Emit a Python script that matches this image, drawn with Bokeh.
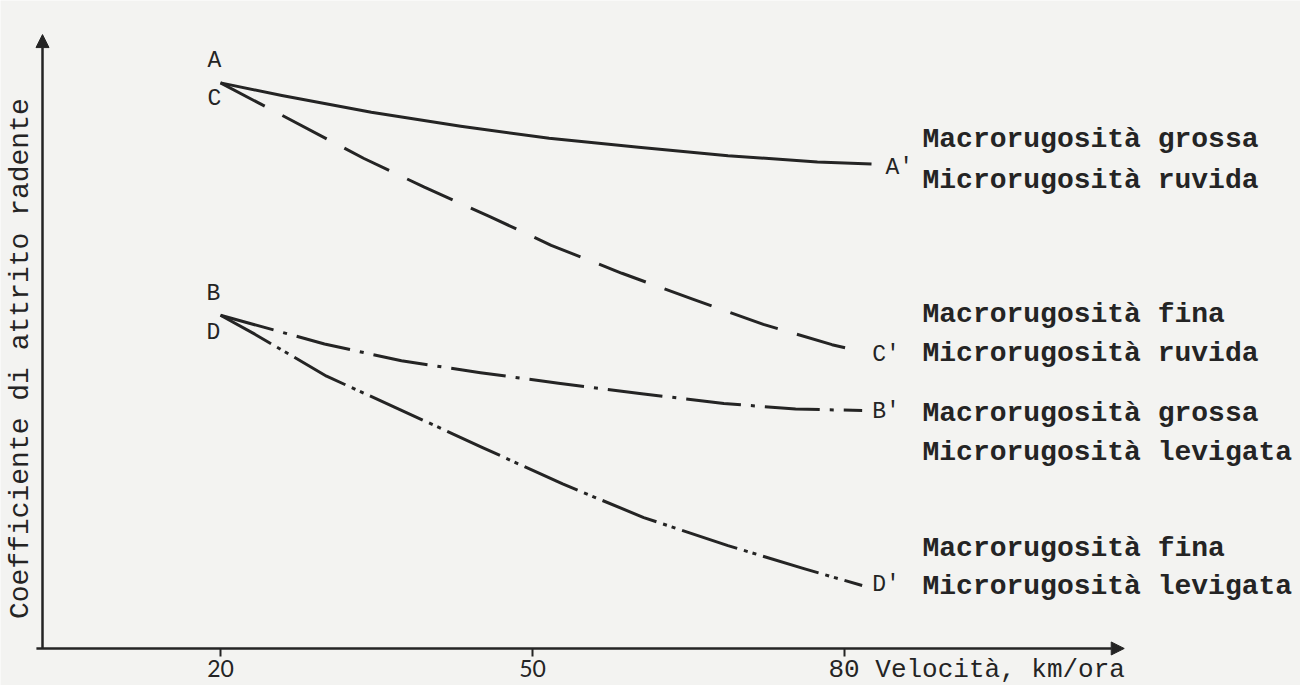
import math
from bokeh.plotting import figure
from bokeh.models import Range1d, FixedTicker, Arrow, NormalHead, Label
from bokeh.embed import file_html
from bokeh.resources import INLINE

# ---------------- data ----------------
speed_A = [20, 25.9, 34.5, 43.1, 51.6, 60.2, 68.8, 77.4, 82.6]
coef_A = [0.808, 0.790, 0.766, 0.746, 0.729, 0.716, 0.704, 0.695, 0.692]

speed_C = [20, 33.8, 39.6, 45.9, 51.8, 58.6, 65.4, 72.2, 78.8, 81.7]
coef_C = [0.808, 0.700, 0.659, 0.617, 0.576, 0.536, 0.499, 0.463, 0.434, 0.424]

speed_B = [20, 30.0, 37.4, 45.0, 52.5, 60.5, 68.4, 75.3, 81.7]
coef_B = [0.476, 0.435, 0.411, 0.394, 0.379, 0.364, 0.350, 0.342, 0.340]

speed_D = [20, 23.3, 30.2, 37.3, 45.2, 52.9, 60.7, 68.8, 76.1, 81.7]
coef_D = [0.476, 0.449, 0.389, 0.341, 0.287, 0.235, 0.187, 0.147, 0.114, 0.090]

start_letters = ["A", "C", "B", "D"]
end_letters = ["A'", "C'", "B'", "D'"]
descriptions = [
    ["Macrorugosità grossa", "Microrugosità ruvida"],
    ["Macrorugosità fina", "Microrugosità ruvida"],
    ["Macrorugosità grossa", "Microrugosità levigata"],
    ["Macrorugosità fina", "Microrugosità levigata"],
]
x_ticks = [20, 50, 80]
x_title = "Velocità, km/ora"
y_title = "Coefficiente di attrito radente"

# ---------------- styling / layout ----------------
INK = "#242424"
BG = "#f3f3f1"
MONO = "Liberation Mono"

p = figure(width=1300, height=685, output_backend="svg", toolbar_location=None,
           x_range=Range1d(-1.154, 123.85), y_range=Range1d(-0.0529, 0.9257),
           min_border=0)
p.background_fill_color = BG
p.border_fill_color = BG
p.outline_line_color = None
p.xgrid.visible = False
p.ygrid.visible = False
p.yaxis.visible = False

# x axis: fixed at coefficient 0, ticks + 20/50 labels (line drawn as arrow)
xa = p.xaxis[0]
xa.fixed_location = 0
xa.ticker = FixedTicker(ticks=x_ticks)
xa.major_label_overrides = {80: ""}
xa.axis_line_color = None
xa.major_tick_out = 8
xa.major_tick_in = 0
xa.minor_tick_out = 0
xa.minor_tick_in = 0
xa.major_tick_line_width = 2
xa.major_tick_line_color = INK
xa.major_label_standoff = 4
xa.major_label_text_font = "Lato"
xa.major_label_text_font_size = "23px"
xa.major_label_text_color = INK

# axis arrows
y_axis_x = 2.885
p.add_layout(Arrow(end=NormalHead(size=13, fill_color=INK, line_color=INK),
                   x_start=y_axis_x, y_start=0, x_end=y_axis_x, y_end=0.877,
                   line_width=2.5, line_color=INK))
p.add_layout(Arrow(end=NormalHead(size=13, fill_color=INK, line_color=INK),
                   x_start=2.3, y_start=0, x_end=106.9, y_end=0,
                   line_width=2.5, line_color=INK))

# axis titles (typewriter font)
p.add_layout(Label(x=80, y=0, text="80 " + x_title, text_align="left",
                   text_baseline="middle", x_offset=-16, y_offset=-22,
                   text_font=MONO, text_font_size="26px", text_color=INK))
p.add_layout(Label(x=y_axis_x, y=0.414, text=y_title, angle=math.pi / 2,
                   text_align="center", text_baseline="middle", x_offset=-22,
                   text_font=MONO, text_font_size="28px", text_color=INK))

# curves
curves = [
    (speed_A, coef_A, None),
    (speed_C, coef_C, "50 20"),
    (speed_B, coef_B, "55 10 4 10"),
    (speed_D, coef_D, "58 7 4 5 4 7"),
]
for xs, ys, dash in curves:
    kw = dict(line_color=INK, line_width=3, line_join="round")
    if dash:
        kw["line_dash"] = dash
    p.line(xs, ys, **kw)

# start / end letters
start_off = [(-6, 22), (-6, -16), (-7, 21), (-7, -18)]
end_off = [(14, -4), (10, -3), (10, -2), (10, 0)]
for i, (xs, ys, _) in enumerate(curves):
    dx, dy = start_off[i]
    p.add_layout(Label(x=xs[0], y=ys[0], text=start_letters[i], x_offset=dx, y_offset=dy,
                       text_align="center", text_baseline="middle",
                       text_font=MONO, text_font_size="23px", text_color=INK))
    dx, dy = end_off[i]
    p.add_layout(Label(x=xs[-1], y=ys[-1], text=end_letters[i], x_offset=dx, y_offset=dy,
                       text_align="left", text_baseline="middle",
                       text_font=MONO, text_font_size="23px", text_color=INK))

# right-hand descriptions
desc_x = 87.5
desc_off = [(25, -16), (37, -2), (-3, -42), (37, -1)]
for i, (xs, ys, _) in enumerate(curves):
    for j, line_txt in enumerate(descriptions[i]):
        p.add_layout(Label(x=desc_x, y=ys[-1], text=line_txt, y_offset=desc_off[i][j],
                           text_align="left", text_baseline="middle",
                           text_font=MONO, text_font_style="bold",
                           text_font_size="28px", text_color=INK))

html = file_html(p, INLINE, title="Coefficiente di attrito radente")
html = html.replace("<body>", '<body style="background:%s">' % BG, 1)
open("out.html", "w").write(html)
